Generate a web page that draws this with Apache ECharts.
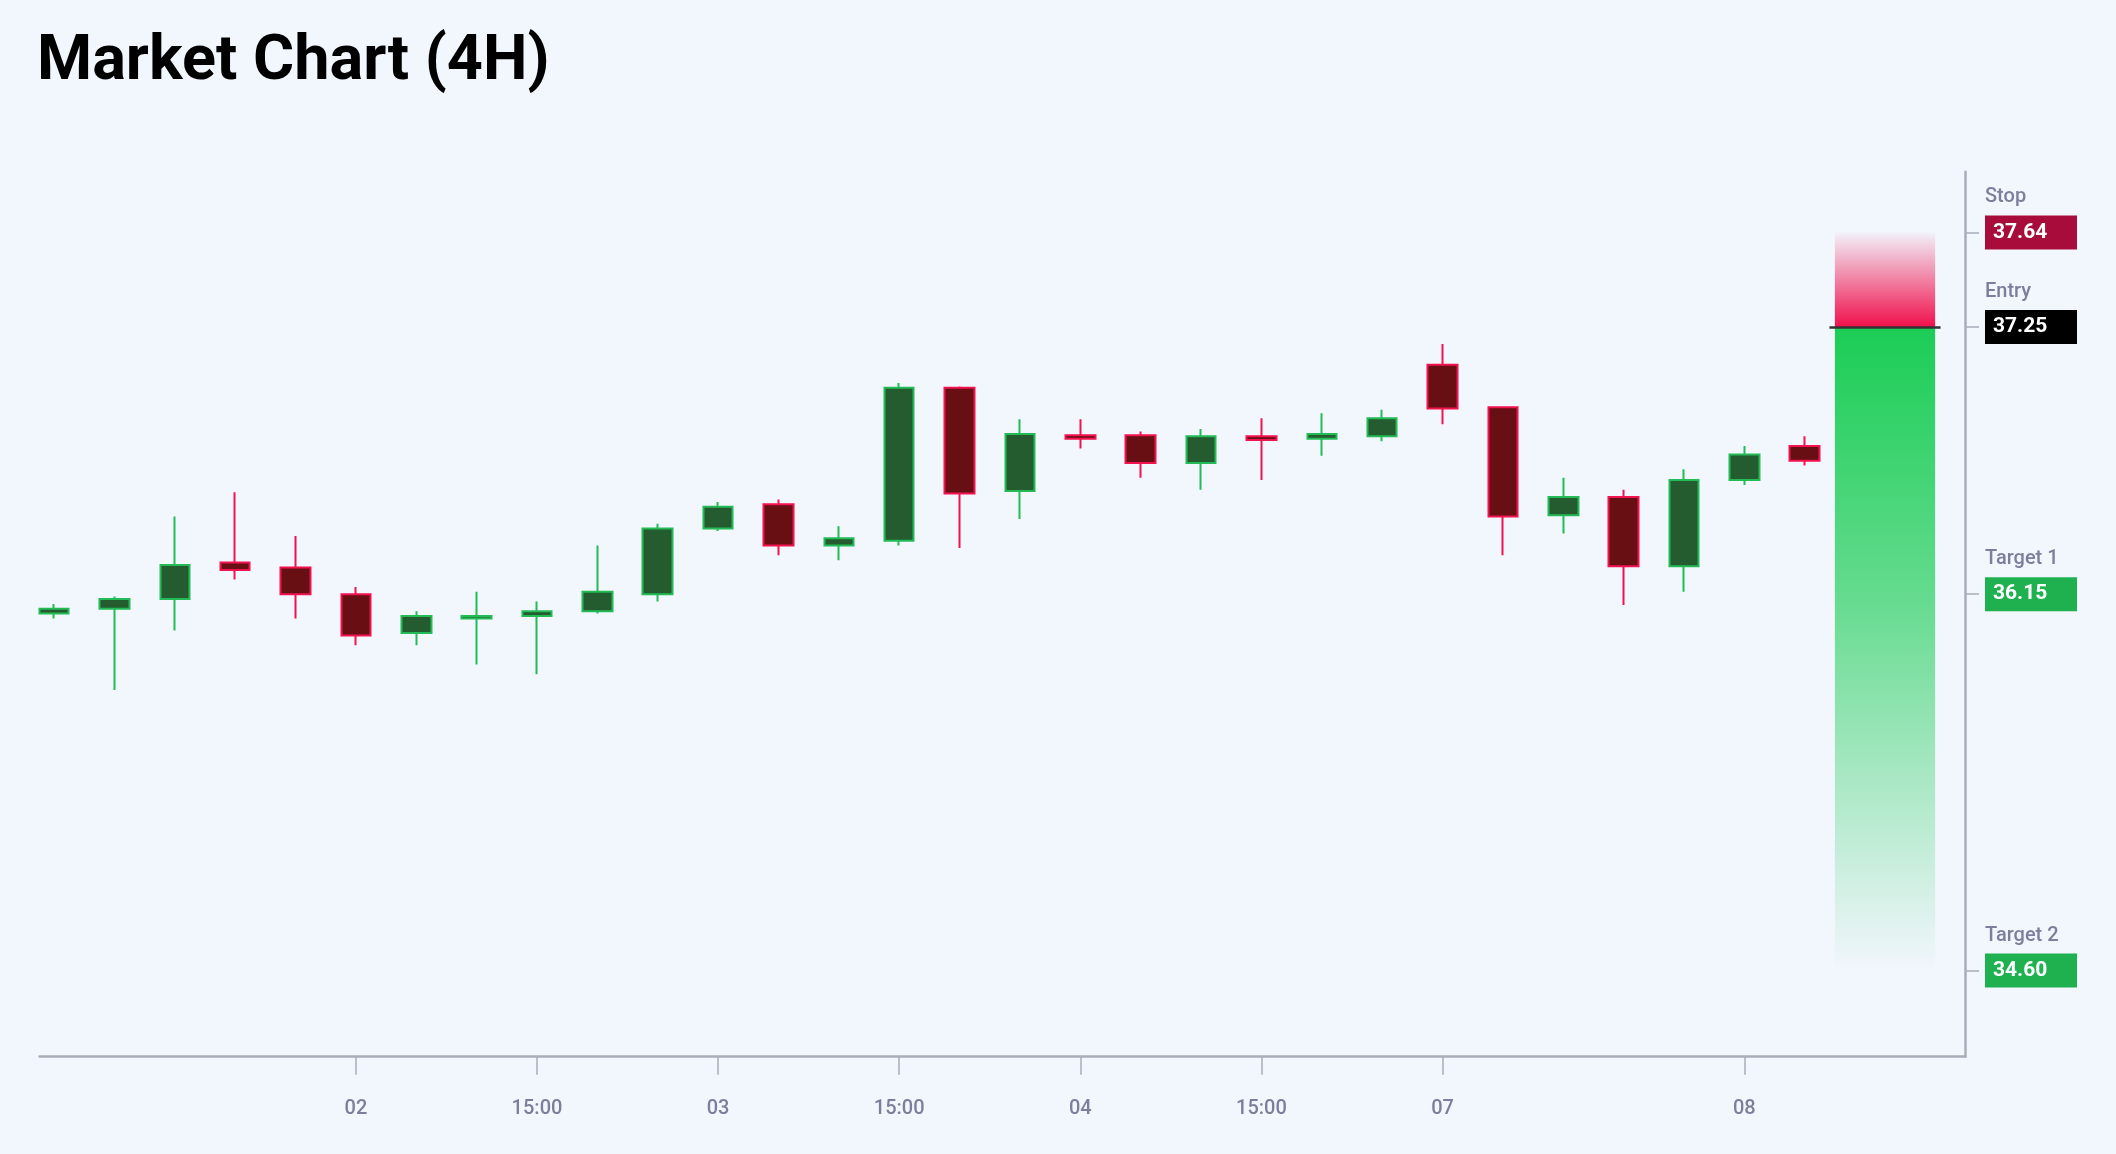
<!DOCTYPE html>
<html>
<head>
<meta charset="utf-8">
<script src="https://cdn.jsdelivr.net/npm/echarts@6/dist/echarts.min.js"></script>
<style>
html,body{margin:0;padding:0;background:#f2f6fd;}
#chart{width:2116px;height:1154px;}
</style>
</head>
<body>
<div id="chart"></div>
<script>
// ---- data ----
const candleIndex = [0,1,2,3,4,5,6,7,8,9,10,11,12,13,14,15,16,17,18,19,20,21,22,23,24,25,26,27,28,29];
const opens  = [36.07,36.09,36.13,36.28,36.26,36.15,35.99,36.05,36.06,36.08,36.15,36.42,36.52,36.35,36.37,37.00,36.575,36.805,36.805,36.69,36.80,36.79,36.80,37.095,36.92,36.475,36.55,36.265,36.62,36.76];
const closes = [36.09,36.13,36.27,36.25,36.15,35.98,36.06,36.06,36.08,36.16,36.42,36.51,36.35,36.38,37.00,36.565,36.81,36.79,36.69,36.80,36.785,36.81,36.875,36.915,36.47,36.55,36.265,36.62,36.725,36.70];
const lows   = [36.05,35.755,36.00,36.21,36.05,35.94,35.94,35.86,35.82,36.07,36.12,36.41,36.31,36.29,36.35,36.34,36.46,36.75,36.63,36.58,36.62,36.72,36.78,36.85,36.31,36.40,36.105,36.16,36.60,36.68];
const highs  = [36.11,36.14,36.47,36.57,36.39,36.18,36.08,36.16,36.12,36.35,36.44,36.53,36.54,36.43,37.02,37.005,36.87,36.87,36.82,36.83,36.875,36.895,36.91,37.18,36.92,36.63,36.58,36.665,36.76,36.80];
const tickIndex  = [5,8,11,14,17,20,23,28];
const tickLabels = ['02','15:00','03','15:00','04','15:00','07','08'];
const levelNames  = ['Stop','Entry','Target 1','Target 2'];
const levelValues = [37.64, 37.25, 36.15, 34.60];
const zoneX = [29.5, 31.16];
const entryLineX = [29.41, 31.25];

// ---- chart ----
const chart = echarts.init(document.getElementById('chart'));
const candleData = candleIndex.map((x, i) => [x, opens[i], closes[i], lows[i], highs[i]]);
const grey = '#7b7f9c';
const axisGrey = '#a9adb8';
const boxColors = ['#a80c3a', '#000000', '#1fb050', '#1fb050'];
const rich = {
  n: {fontFamily: 'Roboto', fontSize: 20, fontWeight: 500, color: grey, lineHeight: 48},
  e: {fontSize: 10, lineHeight: 48}
};
boxColors.forEach((c, i) => {
  rich['b' + i] = {fontFamily: 'Roboto', fontSize: 21, fontWeight: 'bold', color: '#ffffff',
    backgroundColor: c, width: 76, height: 22, padding: [6, 8, 6, 8], lineHeight: 22};
});

chart.setOption({
  backgroundColor: '#f2f6fd',
  animation: false,
  title: {
    text: 'Market Chart (4H)', left: 32, top: 27,
    textStyle: {fontFamily: 'Roboto', fontSize: 63, fontWeight: 'bold', color: '#000'}
  },
  grid: {left: 39.5, right: 151, top: 171.7, bottom: 97.3},
  xAxis: {
    type: 'value', min: -0.241, max: 31.655, scale: true,
    splitLine: {show: false},
    axisLine: {show: true, onZero: false, lineStyle: {color: axisGrey, width: 2.5}},
    axisTick: {show: true, customValues: tickIndex, length: 18, lineStyle: {color: axisGrey, width: 1.5}},
    axisLabel: {
      customValues: tickIndex, margin: 42, fontFamily: 'Roboto', fontSize: 20, fontWeight: 500, color: grey,
      formatter: v => { const i = tickIndex.indexOf(Math.round(v)); return i >= 0 ? tickLabels[i] : ''; }
    }
  },
  yAxis: {
    type: 'value', position: 'right', min: 34.245, max: 37.89, scale: true,
    splitLine: {show: false},
    axisLine: {show: true, onZero: false, lineStyle: {color: axisGrey, width: 2.5}},
    axisTick: {show: true, customValues: levelValues, length: 14, lineStyle: {color: axisGrey, width: 1.5}},
    axisLabel: {
      customValues: levelValues, margin: 20, align: 'left', rich: rich,
      formatter: v => {
        const i = levelValues.findIndex(x => Math.abs(x - v) < 1e-6);
        if (i < 0) return '';
        return '{n|' + levelNames[i] + '}\n{b' + i + '|' + levelValues[i].toFixed(2) + '}\n{e| }';
      }
    }
  },
  series: [{
    type: 'candlestick',
    data: candleData,
    encode: {x: 0, y: [1, 2, 3, 4]},
    barWidth: 30,
    itemStyle: {color: '#245c30', color0: '#680f14', borderColor: '#22bb55', borderColor0: '#f2124f', borderWidth: 2},
    markArea: {
      silent: true,
      data: [
        [{xAxis: zoneX[0], yAxis: levelValues[0], itemStyle: {opacity: 1, color: new echarts.graphic.LinearGradient(0, 0, 0, 1, [
            {offset: 0, color: 'rgba(240,16,76,0.02)'}, {offset: 1, color: 'rgba(240,16,76,1)'}])}},
         {xAxis: zoneX[1], yAxis: levelValues[1]}],
        [{xAxis: zoneX[0], yAxis: levelValues[1], itemStyle: {opacity: 1, color: new echarts.graphic.LinearGradient(0, 0, 0, 1, [
            {offset: 0, color: 'rgba(27,205,85,1)'}, {offset: 0.42, color: 'rgba(27,205,85,0.66)'},
            {offset: 0.81, color: 'rgba(27,205,85,0.22)'}, {offset: 1, color: 'rgba(27,205,85,0)'}])}},
         {xAxis: zoneX[1], yAxis: levelValues[3]}]
      ]
    },
    markLine: {
      silent: true, symbol: ['none', 'none'], label: {show: false},
      lineStyle: {color: '#333333', width: 2.5, type: 'solid'},
      data: [[{coord: [entryLineX[0], levelValues[1]]}, {coord: [entryLineX[1], levelValues[1]]}]]
    }
  }]
});
</script>
</body>
</html>
